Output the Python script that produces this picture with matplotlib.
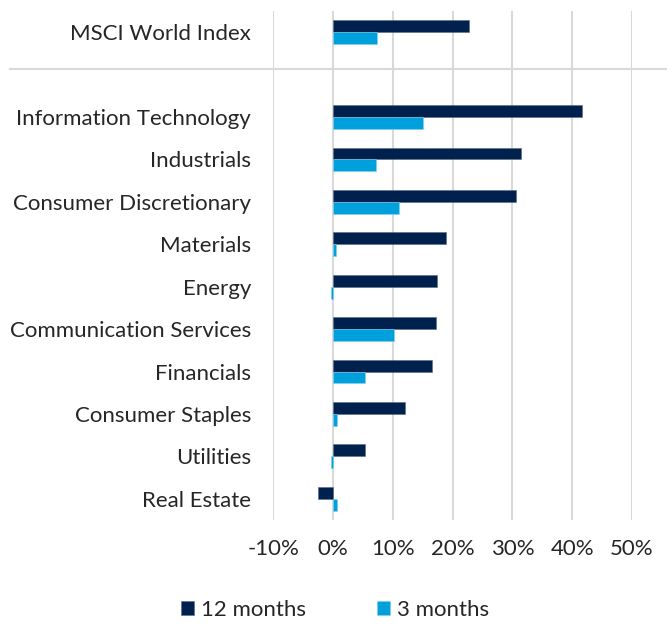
import matplotlib
matplotlib.use('Agg')
from matplotlib import pyplot as plt
from matplotlib.lines import Line2D
import numpy as np

# categories from top to bottom, the empty one leaves the gap under the index
sectors = ['MSCI World Index', '', 'Information Technology', 'Industrials',
           'Consumer Discretionary', 'Materials', 'Energy', 'Communication Services',
           'Financials', 'Consumer Staples', 'Utilities', 'Real Estate']
ret_12m = [22.8, np.nan, 41.7, 31.4, 30.6, 18.9, 17.4, 17.2, 16.6, 12.0, 5.4, -2.6]
ret_3m = [7.3, np.nan, 15.1, 7.1, 11.0, 0.4, -0.3, 10.1, 5.4, 0.7, -0.4, 0.7]
xticks = [-10, 0, 10, 20, 30, 40, 50]

dark = '#00204e'
light = '#00a0dc'

plt.rcParams['font.family'] = ['Lato', 'DejaVu Sans']

fig = plt.figure(figsize=(6.67, 6.25), dpi=100)
ax = fig.add_axes([0.4098, 0.168, 0.5378, 0.8144])

y = np.arange(len(sectors))
h = 0.28
ax.barh(y - h / 2, ret_12m, height=h, color=dark, edgecolor='#5a6a85', linewidth=0.4,
        label='12 months', zorder=3)
ax.barh(y + h / 2, ret_3m, height=h, color=light, edgecolor='#7fcfee', linewidth=0.4,
        label='3 months', zorder=3)

ax.set_ylim(len(sectors) - 0.5, -0.5)
ax.set_xlim(-10, 50)
ax.set_xticks(xticks)
ax.set_xticklabels(['%d%%' % t for t in xticks])
ax.set_yticks(y)
ax.set_yticklabels(sectors)

ax.grid(axis='x', color='#d9d9d9', linewidth=1.5, zorder=0)
for s in ax.spines.values():
    s.set_visible(False)
ax.tick_params(axis='both', length=0, labelsize=16, colors='#262626')
ax.tick_params(axis='y', pad=16)
ax.tick_params(axis='x', pad=14)

# separator between index and sectors
fig.add_artist(Line2D([10 / 667, 666 / 667], [1 - 69 / 625, 1 - 69 / 625],
                      color='#d9d9d9', linewidth=1.5))

fig.legend(loc='center', bbox_to_anchor=(0.502, 0.024), ncol=2, frameon=False,
           fontsize=16, handlelength=0.6, handleheight=0.6, handletextpad=0.3,
           columnspacing=3.2, labelcolor='#262626')

fig.savefig('out.png', dpi=100)
